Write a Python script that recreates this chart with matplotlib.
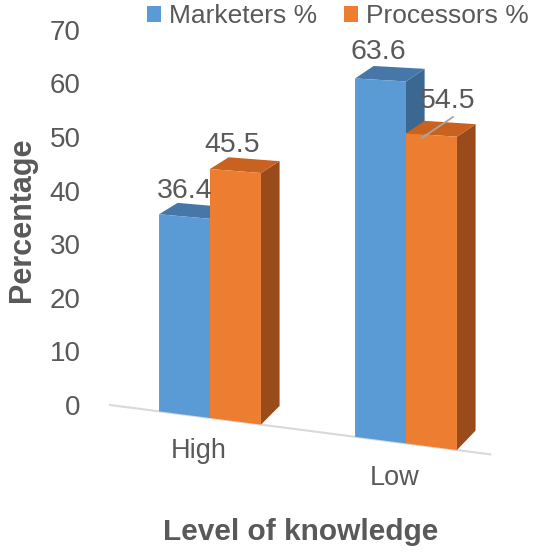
import numpy as np
import matplotlib
matplotlib.use("Agg")
import matplotlib.pyplot as plt
import matplotlib.transforms as mtransforms
from matplotlib.patches import Polygon, Patch

# data
categories = ["High", "Low"]
marketers = [36.4, 63.6]
processors = [45.5, 54.5]
series_names = ["Marketers %", "Processors %"]
yticks = [0, 10, 20, 30, 40, 50, 60, 70]

plt.rcParams["font.family"] = ["Liberation Sans", "DejaVu Sans"]
TXT = "#595959"


class Tilt(mtransforms.Transform):
    """fake perspective: floor slopes down to the right, bars grow a little"""
    input_dims = 2
    output_dims = 2

    def __init__(self, x0, slope, grow):
        super().__init__()
        self.x0, self.slope, self.grow = x0, slope, grow

    def transform_non_affine(self, values):
        v = np.asarray(values, dtype=float)
        d = v[..., 0] - self.x0
        y = v[..., 1] * (1 + self.grow * d) - self.slope * d
        return np.stack([v[..., 0], y], axis=-1)


fig = plt.figure(figsize=(5.4, 5.52), dpi=100)
ax = fig.add_axes([100 / 540, 82 / 552, 420 / 540, 450 / 552])
ax.set_xlim(-0.5612, 1.5816)
ax.set_ylim(-12.13, 71.83)
ax.set_autoscale_on(False)
tr = Tilt(-0.51, 4.75, 0.041) + ax.transData

w = 0.26
dx, dy, dyb = 0.095, 2.4, 3.8
blues = ("#5B9BD5", "#4677A8", "#3A6891")
oranges = ("#ED7D31", "#C9611F", "#9A4B1B")


def box(xc, val, cols, z):
    face, top, side = cols
    xl, xr = xc - w / 2, xc + w / 2
    ax.add_patch(Polygon([(xr, 0), (xr + dx, dyb), (xr + dx, val + dy), (xr, val)],
                         closed=True, fc=side, ec="none", transform=tr, zorder=z))
    ax.add_patch(Polygon([(xl, val), (xl + dx, val + dy), (xr + dx, val + dy), (xr, val)],
                         closed=True, fc=top, ec="none", transform=tr, zorder=z))
    ax.bar(xc, val, w, color=face, transform=tr, zorder=z)


# floor line
ax.plot([-0.51, 1.43], [0, 0], color="#D9D9D9", lw=1.5, transform=tr, zorder=1, clip_on=False)

x = np.arange(len(categories))
for i in range(len(categories)):
    box(x[i] - w / 2, marketers[i], blues, 2 + 2 * i)
    box(x[i] + w / 2, processors[i], oranges, 3 + 2 * i)
    ax.text(x[i] - 0.06, -6.3, categories[i], transform=tr, ha="center", va="center",
            fontsize=19.5, color=TXT)

# value labels
ax.text(x[0] - w / 2, marketers[0] + 3.4, f"{marketers[0]}", transform=tr,
        ha="center", va="baseline", fontsize=20.5, color=TXT, zorder=10)
ax.text(x[0] + w / 2 - 0.015, processors[0] + 3.4, f"{processors[0]}", transform=tr,
        ha="center", va="baseline", fontsize=20.5, color=TXT, zorder=10)
ax.text(x[1] - w / 2 - 0.01, marketers[1] + 3.7, f"{marketers[1]}", transform=tr,
        ha="center", va="baseline", fontsize=20.5, color=TXT, zorder=10)
xo = x[1] + w / 2
ax.plot([xo - 0.048, xo + 0.11], [processors[1] - 0.6, processors[1] + 3.4],
        color="#A6A6A6", lw=1.3, transform=tr, zorder=10)
ax.text(xo + 0.084, processors[1] + 4.9, f"{processors[1]}", transform=tr,
        ha="center", va="baseline", fontsize=20.5, color=TXT, zorder=10)

for s in ax.spines.values():
    s.set_visible(False)
ax.set_xticks([])
ax.set_yticks(yticks)
ax.tick_params(axis="y", length=0, pad=14, labelsize=20, labelcolor=TXT)

fig.text(22 / 540, 1 - 220 / 552, "Percentage", rotation=90, ha="center", va="center",
         fontsize=22, fontweight="bold", color=TXT)
fig.text(301 / 540, 1 - 532 / 552, "Level of knowledge", ha="center", va="center",
         fontsize=21.5, fontweight="bold", color=TXT)

fig.legend(handles=[Patch(fc=blues[0]), Patch(fc=oranges[0])], labels=series_names,
           loc="upper center", bbox_to_anchor=(338 / 540, 1.012), ncol=2, frameon=False,
           fontsize=19, handlelength=0.55, handleheight=0.55, handletextpad=0.3,
           columnspacing=1.0, labelcolor=TXT, borderaxespad=0)

fig.savefig("out.png", dpi=100)
